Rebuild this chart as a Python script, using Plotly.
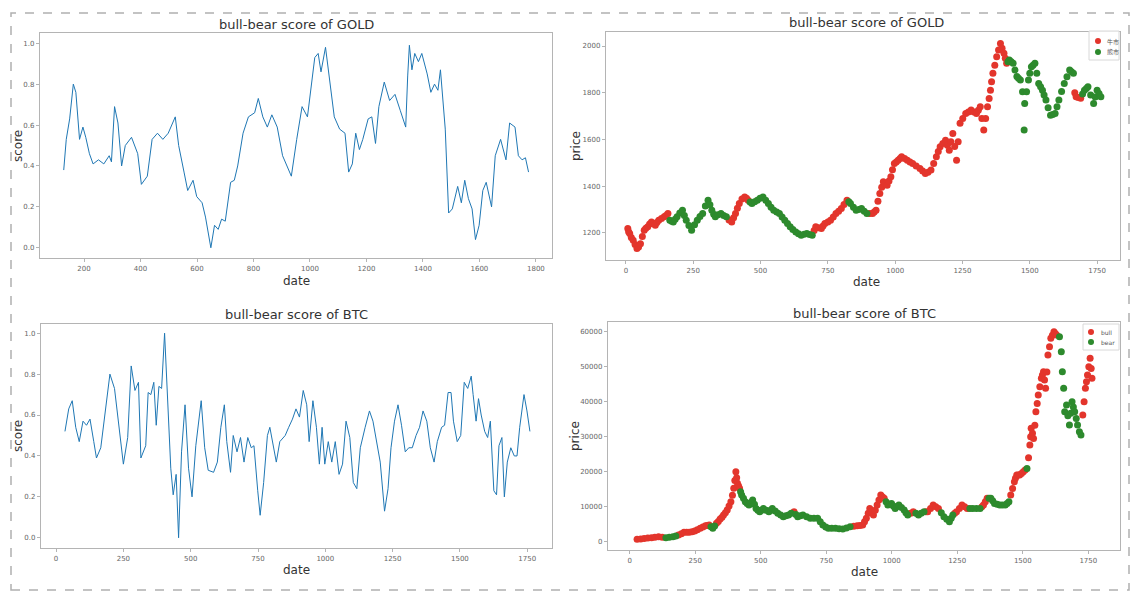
import plotly.graph_objects as go

W, H = 1134, 592

# ---------------- data ----------------
gold_score_day = [128, 137, 149, 162, 171, 184, 196, 206, 219, 232, 251, 270, 289, 297, 308, 320, 333, 346,
                  368, 390, 403, 424, 441, 460, 479, 498, 523, 535, 554, 567, 586, 599, 618, 630, 649, 662,
                  675, 687, 700, 719, 732, 744, 763, 782, 804, 817, 833, 849, 865, 884, 903, 915, 934, 953,
                  972, 991, 1004, 1017, 1029, 1039, 1055, 1067, 1086, 1105, 1124, 1137, 1150, 1162, 1175,
                  1187, 1206, 1219, 1232, 1244, 1263, 1282, 1301, 1320, 1339, 1346, 1352, 1361, 1371, 1384,
                  1396, 1415, 1428, 1441, 1453, 1462, 1479, 1491, 1504, 1523, 1536, 1548, 1561, 1574, 1586,
                  1599, 1612, 1624, 1643, 1656, 1675, 1694, 1707, 1726, 1738, 1751, 1763, 1774]
gold_score = [0.38, 0.53, 0.63, 0.80, 0.76, 0.53, 0.59, 0.54, 0.46, 0.41, 0.43, 0.41, 0.45, 0.42, 0.69, 0.61,
              0.40, 0.50, 0.54, 0.46, 0.31, 0.35, 0.53, 0.56, 0.53, 0.56, 0.64, 0.50, 0.37, 0.28, 0.33, 0.25,
              0.22, 0.15, 0.00, 0.11, 0.09, 0.14, 0.13, 0.32, 0.33, 0.40, 0.56, 0.64, 0.66, 0.73, 0.64, 0.59,
              0.65, 0.59, 0.45, 0.41, 0.35, 0.53, 0.69, 0.64, 0.80, 0.93, 0.95, 0.86, 0.98, 0.84, 0.64, 0.58,
              0.56, 0.37, 0.41, 0.56, 0.48, 0.53, 0.63, 0.64, 0.51, 0.69, 0.81, 0.72, 0.75, 0.67, 0.59, 0.84,
              0.99, 0.87, 0.95, 0.91, 0.95, 0.85, 0.76, 0.80, 0.77, 0.87, 0.58, 0.17, 0.19, 0.30, 0.22, 0.33,
              0.24, 0.19, 0.04, 0.11, 0.28, 0.32, 0.20, 0.45, 0.53, 0.43, 0.61, 0.59, 0.45, 0.43, 0.44, 0.37]

btc_score_day = [33, 47, 60, 73, 86, 100, 113, 126, 140, 150, 166, 186, 200, 217, 233, 250, 266, 279, 293,
                 306, 315, 333, 342, 352, 363, 372, 382, 392, 403, 412, 426, 435, 446, 455, 466, 479, 492,
                 505, 519, 539, 552, 565, 585, 599, 612, 625, 634, 648, 658, 672, 685, 698, 712, 725, 735,
                 749, 758, 771, 785, 794, 807, 818, 831, 851, 864, 878, 891, 904, 918, 931, 940, 954, 967,
                 978, 988, 998, 1011, 1024, 1037, 1051, 1064, 1077, 1091, 1104, 1117, 1130, 1148, 1164,
                 1177, 1190, 1204, 1220, 1233, 1244, 1257, 1270, 1283, 1297, 1310, 1323, 1337, 1350, 1363,
                 1377, 1390, 1404, 1416, 1432, 1443, 1456, 1467, 1476, 1490, 1503, 1516, 1529, 1542, 1549,
                 1560, 1569, 1579, 1592, 1603, 1613, 1626, 1636, 1645, 1656, 1665, 1676, 1689, 1702, 1712,
                 1722, 1738, 1749, 1760]
btc_score = [0.52, 0.63, 0.67, 0.54, 0.47, 0.57, 0.55, 0.58, 0.47, 0.39, 0.44, 0.65, 0.80, 0.73, 0.54,
             0.36, 0.49, 0.84, 0.72, 0.76, 0.39, 0.45, 0.71, 0.70, 0.76, 0.55, 0.74, 0.73, 1.00, 0.71, 0.34,
             0.21, 0.31, 0.00, 0.42, 0.65, 0.34, 0.20, 0.45, 0.67, 0.44, 0.33, 0.32, 0.37, 0.54, 0.65, 0.47,
             0.32, 0.50, 0.42, 0.49, 0.37, 0.49, 0.44, 0.45, 0.23, 0.11, 0.27, 0.50, 0.54, 0.45, 0.37, 0.47,
             0.50, 0.54, 0.58, 0.63, 0.59, 0.72, 0.65, 0.47, 0.67, 0.54, 0.36, 0.54, 0.36, 0.47, 0.37, 0.47,
             0.31, 0.36, 0.57, 0.49, 0.27, 0.24, 0.44, 0.54, 0.62, 0.57, 0.47, 0.37, 0.13, 0.24, 0.44, 0.57,
             0.65, 0.55, 0.42, 0.44, 0.44, 0.50, 0.54, 0.62, 0.57, 0.44, 0.37, 0.47, 0.54, 0.55, 0.71, 0.71,
             0.57, 0.47, 0.50, 0.76, 0.73, 0.79, 0.70, 0.57, 0.68, 0.60, 0.52, 0.49, 0.57, 0.23, 0.21, 0.45,
             0.49, 0.20, 0.37, 0.44, 0.40, 0.40, 0.54, 0.70, 0.62, 0.52]

# gold price, split by regime
gold_bull_day = [7, 10, 14, 20, 27, 34, 41, 47, 54, 61, 68, 74, 81, 88, 95, 102, 109, 115, 122, 132, 142, 149,
                 156,
                 383, 393, 400, 407, 414, 421, 431, 441, 448, 454,
                 699, 705, 715, 726, 732, 739, 750, 760, 770, 780, 790, 800, 810, 821,
                 905, 916, 922, 929, 936, 943, 950, 956, 963, 970, 977, 984, 990, 997, 1004, 1011, 1018, 1024,
                 1035, 1045, 1055, 1065, 1078, 1092, 1102, 1112, 1122, 1133, 1143, 1153, 1160, 1167, 1177,
                 1187, 1194, 1201, 1207, 1214, 1221, 1228, 1234, 1241, 1251, 1262, 1272, 1282, 1292, 1302,
                 1309, 1316, 1322, 1329, 1336, 1343, 1349, 1354, 1358, 1363, 1370, 1377, 1384, 1391, 1397,
                 1404, 1409, 1414,
                 1667, 1672, 1680, 1689]
gold_bull_price = [1219, 1205, 1197, 1180, 1169, 1150, 1133, 1140, 1154, 1185, 1211, 1220, 1226, 1238, 1247,
                   1240, 1233, 1245, 1254, 1262, 1269, 1275, 1283,
                   1255, 1247, 1265, 1283, 1305, 1326, 1345, 1354, 1348, 1340,
                   1210, 1226, 1222, 1219, 1230, 1240, 1247, 1254, 1268, 1283, 1293, 1304, 1322, 1340,
                   1283, 1283, 1290, 1297, 1335, 1369, 1395, 1419, 1410, 1404, 1422, 1440, 1470, 1497, 1504,
                   1511, 1518, 1526, 1518, 1511, 1504, 1497, 1486, 1476, 1465, 1454, 1460, 1469, 1497, 1526,
                   1548, 1569, 1583, 1597, 1575, 1554, 1590, 1626, 1570, 1511, 1590, 1669, 1690, 1711, 1718,
                   1726, 1718, 1711, 1725, 1740, 1690, 1640, 1690, 1740, 1775, 1811, 1847, 1883, 1918, 1954,
                   1983, 2011, 1990, 1969, 1948, 1926,
                   1800, 1783, 1780, 1776]
gold_bear_day = [163, 170, 176, 183, 190, 200, 210, 217, 224, 234, 244, 255, 265, 275, 285, 295, 305, 312,
                 319, 326, 332, 342, 353, 363, 373,
                 461, 468, 478, 488, 498, 509, 519, 529, 539, 549, 560, 570, 580, 590, 600, 610, 620, 631,
                 641, 651, 662, 672, 682, 692,
                 828, 834, 845, 855, 865, 875, 885, 895,
                 1419, 1424, 1431, 1438, 1445, 1452, 1458, 1465, 1473, 1479, 1481, 1488, 1495, 1500, 1506,
                 1512, 1519, 1526, 1533, 1540, 1547, 1553, 1560, 1568, 1577, 1585, 1594, 1601, 1608, 1618,
                 1628, 1638, 1648, 1655, 1662,
                 1696, 1703, 1710, 1716, 1726, 1737, 1743, 1750, 1757, 1764]
gold_bear_price = [1254, 1250, 1247, 1258, 1269, 1285, 1297, 1275, 1254, 1232, 1211, 1235, 1254, 1270, 1283,
                   1315, 1340, 1320, 1297, 1280, 1269, 1278, 1283, 1275, 1269,
                   1332, 1326, 1333, 1340, 1348, 1354, 1340, 1326, 1310, 1297, 1290, 1283, 1268, 1254, 1240,
                   1226, 1215, 1204, 1196, 1190, 1194, 1197, 1193, 1190,
                   1333, 1326, 1310, 1297, 1300, 1304, 1293, 1283,
                   1933, 1940, 1933, 1926, 1897, 1869, 1862, 1854, 1804, 1640, 1754, 1804, 1854, 1883, 1911,
                   1918, 1926, 1883, 1840, 1826, 1811, 1790, 1769, 1736, 1704, 1707, 1711, 1740, 1769, 1805,
                   1840, 1868, 1897, 1890, 1883,
                   1795, 1811, 1818, 1826, 1790, 1754, 1782, 1811, 1797, 1783]

# btc price, split by regime
btc_bull_day = [28, 42, 55, 69, 83, 96, 110, 124,
                186, 197, 207, 217, 227, 238, 248, 258, 269, 279, 289, 296, 303,
                331, 338, 345, 352, 358, 365, 372, 379, 386, 392, 397, 401, 405, 408, 411, 415, 419,
                627,
                855, 868, 879, 889, 896, 903, 910, 916, 923, 930, 937, 944, 951, 958, 965, 971,
                1072, 1082,
                1130, 1137, 1148, 1158, 1168, 1178,
                1240, 1247, 1258, 1268, 1278, 1288,
                1344, 1350, 1357, 1364,
                1454, 1461, 1468, 1472, 1477, 1483, 1488, 1495, 1502, 1509,
                1522, 1527, 1530, 1532, 1537, 1541, 1546, 1550, 1555, 1559, 1565, 1571, 1575, 1579, 1583,
                1587, 1592, 1596, 1602, 1607, 1613, 1619, 1624, 1629,
                1729, 1734, 1739, 1743, 1747, 1752, 1757, 1761, 1764]
btc_bull_price = [670, 800, 950, 1050, 1140, 1300, 1430, 1300,
                  1900, 2300, 2670, 2700, 2670, 2850, 3050, 3400, 3810, 4200, 4570, 4650, 4760,
                  5240, 5800, 6480, 7000, 7620, 8300, 9050, 10200, 11430, 13300, 15240, 17500, 20000, 18300,
                  16670, 16000, 15240,
                  8570,
                  4430, 4570, 4650, 4760, 5700, 6670, 8100, 9520, 8600, 7620, 9000, 10480, 11900, 13330,
                  12800, 12380,
                  8100, 8570,
                  8570, 8570, 9500, 10480, 10000, 9520,
                  8100, 8570, 9500, 10480, 10000, 9520,
                  10000, 10480, 11400, 12380,
                  13330, 15200, 17140, 18100, 19050, 19050, 19050, 19500, 20000, 20500,
                  24000, 27620, 30000, 32380, 31000, 29520, 33300, 37140, 39500, 41900, 44300, 46670, 47600,
                  48570, 46200, 43810, 48500, 53330, 55700, 58100, 59000, 60000, 59500, 59050,
                  36190, 40000, 43810, 45700, 47620, 50000, 52380, 49500, 46670]
btc_bear_day = [138, 151, 165, 176,
                310, 317, 324,
                423, 427, 434, 441, 448, 455, 462, 469, 476, 482, 489, 496, 503, 510, 520, 531, 538, 544,
                555, 565, 576, 586, 596, 606, 616,
                634, 641, 651, 661, 675, 689, 703, 717, 727, 737, 748, 758, 771, 785, 799, 813, 827, 841,
                978, 985, 992, 999, 1006, 1013, 1020, 1027, 1037, 1047, 1054, 1061,
                1092, 1102, 1112, 1123,
                1189, 1199, 1210, 1220, 1227, 1233,
                1298, 1309, 1323, 1337,
                1371, 1378, 1385, 1392, 1402, 1412, 1422, 1433, 1440, 1447,
                1516,
                1640, 1647, 1651, 1656, 1660, 1667, 1672, 1678, 1683, 1688, 1693, 1698, 1704, 1709, 1716,
                1722]
btc_bear_price = [1140, 1250, 1430, 1650,
                  4300, 3810, 4500,
                  14300, 13330, 12400, 11430, 10900, 10480, 11200, 11900, 10700, 9520, 9000, 8570, 9000, 9520,
                  9000, 8570, 9000, 9520, 8800, 8100, 7600, 7140, 7400, 7620, 8100,
                  7800, 7140, 7400, 7620, 7100, 6670, 6700, 6670, 5700, 4760, 4200, 3810, 3810, 3810, 3700,
                  3620, 3950, 4290,
                  11400, 10480, 10700, 10950, 10200, 9520, 10000, 10480, 9800, 9050, 8300, 7620,
                  8100, 7620, 8100, 8570,
                  8300, 7140, 6400, 5710, 6700, 7620,
                  9520, 9520, 9520, 9520,
                  12380, 12380, 11700, 10950, 10700, 10480, 10480, 10480, 10950, 11430,
                  20950,
                  58570, 54290, 48570, 43810, 37140, 39050, 36000, 33330, 36700, 40000, 38500, 37140, 35200,
                  33330, 31430, 30480]

gold_labels = ["牛市", "熊市"]
btc_labels = ["bull", "bear"]
titles = ["bull-bear score of GOLD", "bull-bear score of GOLD", "bull-bear score of BTC", "bull-bear score of BTC"]

# ---------------- styling ----------------
RED = "#e3352c"
GREEN = "#2d8a2d"
BLUE = "#1f77b4"
FRAME = "#b4b4b4"
FONT = "DejaVu Sans"
MS = 7


def dom_x(a, b):
    return [a / W, b / W]


def dom_y(top, bottom):
    return [1 - bottom / H, 1 - top / H]


fig = go.Figure()

fig.add_trace(go.Scatter(x=gold_score_day, y=gold_score, mode="lines", line=dict(color=BLUE, width=1),
                         showlegend=False, xaxis="x", yaxis="y"))
fig.add_trace(go.Scatter(x=btc_score_day, y=btc_score, mode="lines", line=dict(color=BLUE, width=1),
                         showlegend=False, xaxis="x3", yaxis="y3"))

fig.add_trace(go.Scatter(x=gold_bull_day, y=gold_bull_price, mode="markers", name=gold_labels[0],
                         marker=dict(color=RED, size=MS, line=dict(width=0)), showlegend=False,
                         xaxis="x2", yaxis="y2"))
fig.add_trace(go.Scatter(x=gold_bear_day, y=gold_bear_price, mode="markers", name=gold_labels[1],
                         marker=dict(color=GREEN, size=MS, line=dict(width=0)), showlegend=False,
                         xaxis="x2", yaxis="y2"))
fig.add_trace(go.Scatter(x=btc_bull_day, y=btc_bull_price, mode="markers", name=btc_labels[0],
                         marker=dict(color=RED, size=MS, line=dict(width=0)), showlegend=False,
                         xaxis="x4", yaxis="y4"))
fig.add_trace(go.Scatter(x=btc_bear_day, y=btc_bear_price, mode="markers", name=btc_labels[1],
                         marker=dict(color=GREEN, size=MS, line=dict(width=0)), showlegend=False,
                         xaxis="x4", yaxis="y4"))

axis_common = dict(showline=True, linecolor=FRAME, linewidth=1.3, mirror=True, showgrid=False,
                   zeroline=False, ticks="outside", ticklen=3, tickcolor=FRAME,
                   tickfont=dict(size=7, color="#666", family=FONT))

fig.update_layout(
    width=W, height=H, margin=dict(l=0, r=0, t=0, b=0),
    paper_bgcolor="white", plot_bgcolor="white",
    font=dict(family=FONT), showlegend=False,
    xaxis=dict(domain=dom_x(40, 552), range=[44, 1857], tickvals=[200, 400, 600, 800, 1000, 1200, 1400, 1600, 1800],
               anchor="y", **axis_common),
    yaxis=dict(domain=dom_y(33, 258), range=[-0.05, 1.05], tickvals=[0, 0.2, 0.4, 0.6, 0.8, 1.0],
               tickformat=".1f", anchor="x", **axis_common),
    xaxis2=dict(domain=dom_x(606, 1120), range=[-74, 1835], tickvals=[0, 250, 500, 750, 1000, 1250, 1500, 1750],
                anchor="y2", **axis_common),
    yaxis2=dict(domain=dom_y(32, 260), range=[1084, 2060], tickvals=[1200, 1400, 1600, 1800, 2000],
                anchor="x2", **axis_common),
    xaxis3=dict(domain=dom_x(41, 552), range=[-56, 1842], tickvals=[0, 250, 500, 750, 1000, 1250, 1500, 1750],
                anchor="y3", **axis_common),
    yaxis3=dict(domain=dom_y(324, 548), range=[-0.05, 1.045], tickvals=[0, 0.2, 0.4, 0.6, 0.8, 1.0],
                tickformat=".1f", anchor="x3", **axis_common),
    xaxis4=dict(domain=dom_x(608, 1120), range=[-83, 1871], tickvals=[0, 250, 500, 750, 1000, 1250, 1500, 1750],
                anchor="y4", **axis_common),
    yaxis4=dict(domain=dom_y(322, 550), range=[-2370, 62770],
                tickvals=[0, 10000, 20000, 30000, 40000, 50000, 60000], tickformat="d", anchor="x4", **axis_common),
)

# titles, axis labels
title_pos = [(296, 25), (866, 22), (296, 314), (864, 313)]
for (px, py), t in zip(title_pos, titles):
    fig.add_annotation(text=t, x=px / W, y=1 - py / H, xref="paper", yref="paper", showarrow=False,
                       xanchor="center", yanchor="middle", font=dict(size=13, color="#333", family=FONT))

xlab_pos = [(296, 281), (866, 282), (296, 570), (864, 572)]
for px, py in xlab_pos:
    fig.add_annotation(text="date", x=px / W, y=1 - py / H, xref="paper", yref="paper", showarrow=False,
                       xanchor="center", yanchor="middle", font=dict(size=12, color="#333", family=FONT))

ylab = [("score", 18, 146), ("price", 576, 146), ("score", 18, 436), ("price", 575, 436)]
for t, px, py in ylab:
    fig.add_annotation(text=t, x=px / W, y=1 - py / H, xref="paper", yref="paper", showarrow=False,
                       textangle=-90, xanchor="center", yanchor="middle",
                       font=dict(size=12, color="#333", family=FONT))


# small matplotlib-style legends (box + dots + labels), positioned in pixels
def legend_box(x0, y0, x1, y1, dot_x, dot_ys, text_x, labels, colors, font_family, font_size):
    fig.add_shape(type="rect", xref="paper", yref="paper", x0=x0 / W, x1=x1 / W, y0=1 - y1 / H, y1=1 - y0 / H,
                  line=dict(color="#d8d8d8", width=1), fillcolor="rgba(255,255,255,0.85)", layer="above")
    for dy, lab, col in zip(dot_ys, labels, colors):
        fig.add_shape(type="circle", xref="paper", yref="paper", xsizemode="pixel", ysizemode="pixel",
                      xanchor=dot_x / W, yanchor=1 - dy / H, x0=-3, x1=3, y0=-3, y1=3,
                      fillcolor=col, line=dict(width=0), layer="above")
        fig.add_annotation(text=lab, x=text_x / W, y=1 - dy / H, xref="paper", yref="paper", showarrow=False,
                           xanchor="left", yanchor="middle", font=dict(size=font_size, color="#555",
                                                                        family=font_family))


legend_box(1089, 31, 1119, 60, 1098, [41, 52], 1105, gold_labels, [RED, GREEN], "Noto Sans CJK SC", 6)
legend_box(1083, 324, 1119, 350, 1091, [332, 342], 1099, btc_labels, [RED, GREEN], FONT, 6)

fig.add_shape(type="rect", xref="paper", yref="paper", x0=11 / W, x1=1129 / W, y0=1 - 590 / H, y1=1 - 13 / H,
              line=dict(color="#b0b0b0", width=1.5, dash="dash"))

fig.write_html("out.html", config={"displayModeBar": False},
               post_script="document.body.style.margin='0';")
